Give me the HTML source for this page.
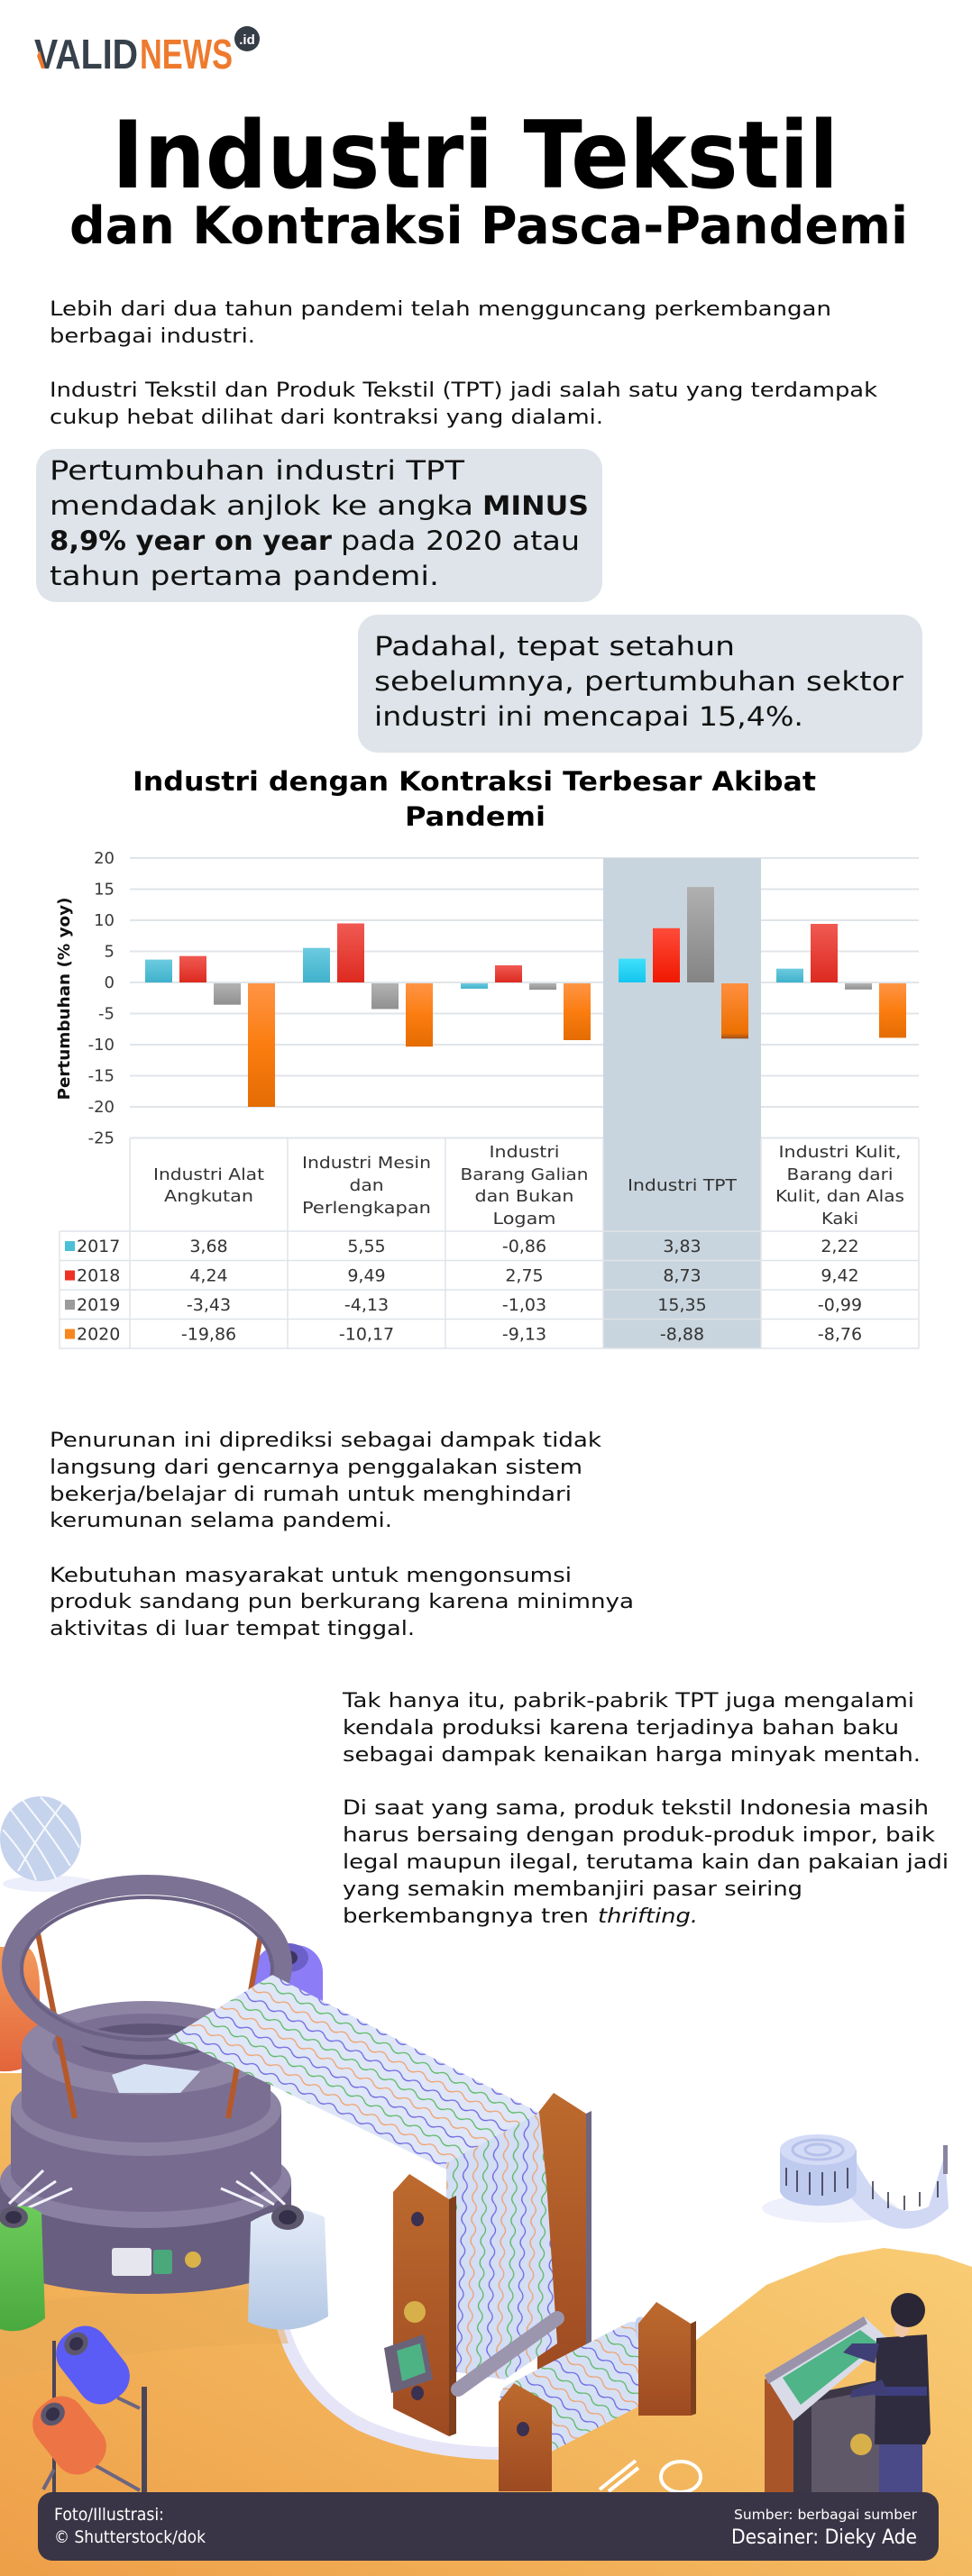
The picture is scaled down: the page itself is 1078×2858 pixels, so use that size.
<!DOCTYPE html>
<html><head><meta charset="utf-8">
<style>
html,body{margin:0;padding:0;background:#fff}
svg{display:block}
.t{font-family:"DejaVu Sans","Liberation Sans",sans-serif}
.bd{font-family:"DejaVu Sans","Liberation Sans",sans-serif;font-weight:bold}
.lg{font-family:"Liberation Sans","DejaVu Sans",sans-serif;font-weight:bold}
</style></head>
<body>
<svg xmlns="http://www.w3.org/2000/svg" width="1078" height="2858" viewBox="0 0 1078 2858">
<defs>
<linearGradient id="gC" x1="0" y1="0" x2="0" y2="1"><stop offset="0" stop-color="#6ccbe0"/><stop offset="1" stop-color="#3fb2cb"/></linearGradient>
<linearGradient id="gR" x1="0" y1="0" x2="0" y2="1"><stop offset="0" stop-color="#f05a52"/><stop offset="1" stop-color="#dd2a20"/></linearGradient>
<linearGradient id="gG" x1="0" y1="0" x2="0" y2="1"><stop offset="0" stop-color="#b3b3b3"/><stop offset="1" stop-color="#909090"/></linearGradient>
<linearGradient id="gO" x1="0" y1="0" x2="0" y2="1"><stop offset="0" stop-color="#ff9445"/><stop offset="0.5" stop-color="#fb7d10"/><stop offset="1" stop-color="#e46c02"/></linearGradient>
<linearGradient id="gC2" x1="0" y1="0" x2="0" y2="1"><stop offset="0" stop-color="#3fe0fa"/><stop offset="1" stop-color="#14c6ee"/></linearGradient>
<linearGradient id="gR2" x1="0" y1="0" x2="0" y2="1"><stop offset="0" stop-color="#ff4b3a"/><stop offset="1" stop-color="#f01800"/></linearGradient>
<linearGradient id="gG2" x1="0" y1="0" x2="0" y2="1"><stop offset="0" stop-color="#b0b0b0"/><stop offset="1" stop-color="#848484"/></linearGradient>
<linearGradient id="gO2" x1="0" y1="0" x2="0" y2="1"><stop offset="0" stop-color="#ff8f3f"/><stop offset="0.9" stop-color="#ec7000"/><stop offset="1" stop-color="#9a5020"/></linearGradient>
<linearGradient id="gGround" x1="0" y1="1" x2="1" y2="0"><stop offset="0" stop-color="#ee9f48"/><stop offset="0.45" stop-color="#f3b75e"/><stop offset="1" stop-color="#fbd780"/></linearGradient>
<linearGradient id="gOrSp" x1="0" y1="0" x2="0" y2="1"><stop offset="0" stop-color="#f39a5c"/><stop offset="1" stop-color="#e3643a"/></linearGradient>
<linearGradient id="gGrSp" x1="0" y1="0" x2="0" y2="1"><stop offset="0" stop-color="#6ccb5a"/><stop offset="1" stop-color="#4aa93e"/></linearGradient>
<linearGradient id="gWhSp" x1="0" y1="0" x2="0" y2="1"><stop offset="0" stop-color="#e4ebf8"/><stop offset="1" stop-color="#b3c8e4"/></linearGradient>
<linearGradient id="gWood" x1="0" y1="0" x2="0" y2="1"><stop offset="0" stop-color="#bd6a2e"/><stop offset="1" stop-color="#9e4a22"/></linearGradient>
<pattern id="wv" width="24" height="33" patternUnits="userSpaceOnUse" patternTransform="rotate(27.3)">
<rect width="24" height="33" fill="#dfe6f7"/>
<path d="M0 5 q6 -5 12 0 t12 0" stroke="#58b860" fill="none" stroke-width="1.3"/>
<path d="M0 16 q6 -5 12 0 t12 0" stroke="#f0a06a" fill="none" stroke-width="1.3"/>
<path d="M0 27 q6 -5 12 0 t12 0" stroke="#6a64e0" fill="none" stroke-width="1.3"/>
</pattern>
<pattern id="wvv" width="24" height="33" patternUnits="userSpaceOnUse" patternTransform="rotate(92)">
<rect width="24" height="33" fill="#d3ddf4"/>
<path d="M0 5 q6 -5 12 0 t12 0" stroke="#58b860" fill="none" stroke-width="1.3"/>
<path d="M0 16 q6 -5 12 0 t12 0" stroke="#f0a06a" fill="none" stroke-width="1.3"/>
<path d="M0 27 q6 -5 12 0 t12 0" stroke="#6a64e0" fill="none" stroke-width="1.3"/>
</pattern>
<pattern id="wvr" width="24" height="33" patternUnits="userSpaceOnUse" patternTransform="rotate(62)">
<rect width="24" height="33" fill="#d6e0f5"/>
<path d="M0 5 q6 -5 12 0 t12 0" stroke="#58b860" fill="none" stroke-width="1.3"/>
<path d="M0 16 q6 -5 12 0 t12 0" stroke="#f0a06a" fill="none" stroke-width="1.3"/>
<path d="M0 27 q6 -5 12 0 t12 0" stroke="#6a64e0" fill="none" stroke-width="1.3"/>
</pattern>
</defs>

<rect width="1078" height="2858" fill="#fff"/>

<!-- LOGO -->
<text class="lg" x="38" y="76" font-size="46" textLength="115" lengthAdjust="spacingAndGlyphs" fill="#37414b">VALID</text>
<polygon points="44,56 50,76 46,76 41,62" fill="#ee7a2e"/>
<text class="lg" x="155" y="76" font-size="46" textLength="103" lengthAdjust="spacingAndGlyphs" fill="#ee7a2e">NEWS</text>
<circle cx="274" cy="43" r="14" fill="#353d47"/>
<text class="lg" x="274" y="49" font-size="15" text-anchor="middle" fill="#fff">.id</text>

<!-- TITLE -->
<text class="bd" x="124" y="208" font-size="103" textLength="806" lengthAdjust="spacingAndGlyphs" fill="#000">Industri Tekstil</text>
<text class="bd" x="77" y="270" font-size="57" textLength="930" lengthAdjust="spacingAndGlyphs" fill="#000">dan Kontraksi Pasca-Pandemi</text>

<!-- INTRO -->
<g class="t" font-size="22" fill="#111">
<text x="55" y="350" textLength="867" lengthAdjust="spacingAndGlyphs">Lebih dari dua tahun pandemi telah mengguncang perkembangan</text>
<text x="55" y="380" textLength="228" lengthAdjust="spacingAndGlyphs">berbagai industri.</text>
<text x="55" y="440" textLength="918" lengthAdjust="spacingAndGlyphs">Industri Tekstil dan Produk Tekstil (TPT) jadi salah satu yang terdampak</text>
<text x="55" y="470" textLength="614" lengthAdjust="spacingAndGlyphs">cukup hebat dilihat dari kontraksi yang dialami.</text>
</g>

<!-- BUBBLES -->
<rect x="40" y="498" width="628" height="170" rx="22" fill="#dee4e9"/>
<g font-size="29" fill="#111">
<text class="t" x="55" y="532" textLength="460" lengthAdjust="spacingAndGlyphs">Pertumbuhan industri TPT</text>
<text class="t" x="55" y="571" textLength="470" lengthAdjust="spacingAndGlyphs">mendadak anjlok ke angka</text>
<text class="bd" x="535" y="571" textLength="118" lengthAdjust="spacingAndGlyphs">MINUS</text>
<text class="bd" x="55" y="610" textLength="313" lengthAdjust="spacingAndGlyphs">8,9% year on year</text>
<text class="t" x="378" y="610" textLength="265" lengthAdjust="spacingAndGlyphs">pada 2020 atau</text>
<text class="t" x="55" y="649" textLength="432" lengthAdjust="spacingAndGlyphs">tahun pertama pandemi.</text>
</g>
<rect x="397" y="682" width="626" height="153" rx="22" fill="#dee4e9"/>
<g class="t" font-size="29" fill="#111">
<text x="415" y="727" textLength="400" lengthAdjust="spacingAndGlyphs">Padahal, tepat setahun</text>
<text x="415" y="766" textLength="587" lengthAdjust="spacingAndGlyphs">sebelumnya, pertumbuhan sektor</text>
<text x="415" y="805" textLength="476" lengthAdjust="spacingAndGlyphs">industri ini mencapai 15,4%.</text>
</g>

<!-- CHART TITLE -->
<text class="bd" x="147" y="877" font-size="29" textLength="758" lengthAdjust="spacingAndGlyphs" fill="#000">Industri dengan Kontraksi Terbesar Akibat</text>
<text class="bd" x="449" y="916" font-size="29" textLength="156" lengthAdjust="spacingAndGlyphs" fill="#000">Pandemi</text>

<!-- GRID -->
<g stroke="#e0e5e9" stroke-width="2">
<line x1="144" y1="952" x2="1019" y2="952"/>
<line x1="144" y1="986.5" x2="1019" y2="986.5"/>
<line x1="144" y1="1021" x2="1019" y2="1021"/>
<line x1="144" y1="1055.5" x2="1019" y2="1055.5"/>
<line x1="144" y1="1090" x2="1019" y2="1090"/>
<line x1="144" y1="1124.5" x2="1019" y2="1124.5"/>
<line x1="144" y1="1159" x2="1019" y2="1159"/>
<line x1="144" y1="1193.5" x2="1019" y2="1193.5"/>
<line x1="144" y1="1228" x2="1019" y2="1228"/>
<line x1="144" y1="1262.5" x2="1019" y2="1262.5"/>
</g>
<g class="t" font-size="18" fill="#3a3a3a" text-anchor="end">
<text x="127" y="958">20</text>
<text x="127" y="992.5">15</text>
<text x="127" y="1027">10</text>
<text x="127" y="1061.5">5</text>
<text x="127" y="1096">0</text>
<text x="127" y="1130.5">-5</text>
<text x="127" y="1165">-10</text>
<text x="127" y="1199.5">-15</text>
<text x="127" y="1234">-20</text>
<text x="127" y="1268.5">-25</text>
</g>
<text class="bd" transform="translate(77,1108) rotate(-90)" font-size="18" text-anchor="middle" textLength="225" lengthAdjust="spacingAndGlyphs" fill="#111">Pertumbuhan (% yoy)</text>

<!-- highlight -->
<rect x="669" y="952" width="175" height="544" fill="#c9d5de"/>

<!-- TABLE LINES -->
<g stroke="#dfe4e8" stroke-width="1.5">
<line x1="66" y1="1366" x2="1019" y2="1366"/>
<line x1="66" y1="1398.5" x2="1019" y2="1398.5"/>
<line x1="66" y1="1431" x2="1019" y2="1431"/>
<line x1="66" y1="1463.5" x2="1019" y2="1463.5"/>
<line x1="66" y1="1496" x2="1019" y2="1496"/>
<line x1="66" y1="1366" x2="66" y2="1496"/>
<line x1="144" y1="1263" x2="144" y2="1496"/>
<line x1="319" y1="1263" x2="319" y2="1496"/>
<line x1="494" y1="1263" x2="494" y2="1496"/>
<line x1="669" y1="1263" x2="669" y2="1496"/>
<line x1="844" y1="1263" x2="844" y2="1496"/>
<line x1="1019" y1="1263" x2="1019" y2="1496"/>
</g>

<!-- BARS -->
<g>
<rect x="161" y="1064.6" width="30" height="25.4" fill="url(#gC)"/>
<rect x="199" y="1060.7" width="30" height="29.3" fill="url(#gR)"/>
<rect x="237" y="1091" width="30" height="23.7" fill="url(#gG)"/>
<rect x="275" y="1091" width="30" height="137" fill="url(#gO)"/>

<rect x="336" y="1051.7" width="30" height="38.3" fill="url(#gC)"/>
<rect x="374" y="1024.5" width="30" height="65.5" fill="url(#gR)"/>
<rect x="412" y="1091" width="30" height="28.5" fill="url(#gG)"/>
<rect x="450" y="1091" width="30" height="70.2" fill="url(#gO)"/>

<rect x="511" y="1091" width="30" height="5.9" fill="url(#gC)"/>
<rect x="549" y="1071" width="30" height="19" fill="url(#gR)"/>
<rect x="587" y="1091" width="30" height="7.1" fill="url(#gG)"/>
<rect x="625" y="1091" width="30" height="63" fill="url(#gO)"/>

<rect x="686" y="1063.6" width="30" height="26.4" fill="url(#gC2)"/>
<rect x="724" y="1029.8" width="30" height="60.2" fill="url(#gR2)"/>
<rect x="762" y="984.1" width="30" height="105.9" fill="url(#gG2)"/>
<rect x="800" y="1091" width="30" height="61.3" fill="url(#gO2)"/>

<rect x="861" y="1074.7" width="30" height="15.3" fill="url(#gC)"/>
<rect x="899" y="1025" width="30" height="65" fill="url(#gR)"/>
<rect x="937" y="1091" width="30" height="6.8" fill="url(#gG)"/>
<rect x="975" y="1091" width="30" height="60.4" fill="url(#gO)"/>
</g>

<!-- TABLE HEADER -->
<g class="t" font-size="18" fill="#333" text-anchor="middle">
<text x="231.5" y="1309" textLength="123" lengthAdjust="spacingAndGlyphs">Industri Alat</text>
<text x="231.5" y="1333" textLength="99" lengthAdjust="spacingAndGlyphs">Angkutan</text>
<text x="406.5" y="1296" textLength="143" lengthAdjust="spacingAndGlyphs">Industri Mesin</text>
<text x="406.5" y="1321" textLength="38" lengthAdjust="spacingAndGlyphs">dan</text>
<text x="406.5" y="1346" textLength="143" lengthAdjust="spacingAndGlyphs">Perlengkapan</text>
<text x="581.5" y="1284" textLength="78" lengthAdjust="spacingAndGlyphs">Industri</text>
<text x="581.5" y="1309" textLength="142" lengthAdjust="spacingAndGlyphs">Barang Galian</text>
<text x="581.5" y="1333" textLength="110" lengthAdjust="spacingAndGlyphs">dan Bukan</text>
<text x="581.5" y="1358" textLength="70" lengthAdjust="spacingAndGlyphs">Logam</text>
<text x="756.5" y="1321" textLength="121" lengthAdjust="spacingAndGlyphs">Industri TPT</text>
<text x="931.5" y="1284" textLength="136" lengthAdjust="spacingAndGlyphs">Industri Kulit,</text>
<text x="931.5" y="1309" textLength="118" lengthAdjust="spacingAndGlyphs">Barang dari</text>
<text x="931.5" y="1333" textLength="143" lengthAdjust="spacingAndGlyphs">Kulit, dan Alas</text>
<text x="931.5" y="1358" textLength="41" lengthAdjust="spacingAndGlyphs">Kaki</text>
</g>

<!-- TABLE DATA -->
<rect x="72" y="1377" width="11" height="11" fill="#4bbfd6"/>
<rect x="72" y="1409.5" width="11" height="11" fill="#ee3124"/>
<rect x="72" y="1442" width="11" height="11" fill="#9b9b9b"/>
<rect x="72" y="1474.5" width="11" height="11" fill="#f7861e"/>
<g class="t" font-size="19" fill="#333">
<text x="85" y="1389">2017</text>
<text x="85" y="1421.5">2018</text>
<text x="85" y="1454">2019</text>
<text x="85" y="1486.5">2020</text>
</g>
<g class="t" font-size="19" fill="#333" text-anchor="middle">
<text x="231.5" y="1389">3,68</text><text x="406.5" y="1389">5,55</text><text x="581.5" y="1389">-0,86</text><text x="756.5" y="1389">3,83</text><text x="931.5" y="1389">2,22</text>
<text x="231.5" y="1421.5">4,24</text><text x="406.5" y="1421.5">9,49</text><text x="581.5" y="1421.5">2,75</text><text x="756.5" y="1421.5">8,73</text><text x="931.5" y="1421.5">9,42</text>
<text x="231.5" y="1454">-3,43</text><text x="406.5" y="1454">-4,13</text><text x="581.5" y="1454">-1,03</text><text x="756.5" y="1454">15,35</text><text x="931.5" y="1454">-0,99</text>
<text x="231.5" y="1486.5">-19,86</text><text x="406.5" y="1486.5">-10,17</text><text x="581.5" y="1486.5">-9,13</text><text x="756.5" y="1486.5">-8,88</text><text x="931.5" y="1486.5">-8,76</text>
</g>

<!-- LOWER TEXT -->
<g class="t" font-size="22" fill="#111">
<text x="55" y="1605" textLength="612" lengthAdjust="spacingAndGlyphs">Penurunan ini diprediksi sebagai dampak tidak</text>
<text x="55" y="1635" textLength="591" lengthAdjust="spacingAndGlyphs">langsung dari gencarnya penggalakan sistem</text>
<text x="55" y="1665" textLength="579" lengthAdjust="spacingAndGlyphs">bekerja/belajar di rumah untuk menghindari</text>
<text x="55" y="1694" textLength="380" lengthAdjust="spacingAndGlyphs">kerumunan selama pandemi.</text>
<text x="55" y="1755" textLength="579" lengthAdjust="spacingAndGlyphs">Kebutuhan masyarakat untuk mengonsumsi</text>
<text x="55" y="1784" textLength="648" lengthAdjust="spacingAndGlyphs">produk sandang pun berkurang karena minimnya</text>
<text x="55" y="1814" textLength="405" lengthAdjust="spacingAndGlyphs">aktivitas di luar tempat tinggal.</text>
<text x="380" y="1894" textLength="634" lengthAdjust="spacingAndGlyphs">Tak hanya itu, pabrik-pabrik TPT juga mengalami</text>
<text x="380" y="1924" textLength="617" lengthAdjust="spacingAndGlyphs">kendala produksi karena terjadinya bahan baku</text>
<text x="380" y="1954" textLength="641" lengthAdjust="spacingAndGlyphs">sebagai dampak kenaikan harga minyak mentah.</text>
<text x="380" y="2013" textLength="650" lengthAdjust="spacingAndGlyphs">Di saat yang sama, produk tekstil Indonesia masih</text>
<text x="380" y="2043" textLength="657" lengthAdjust="spacingAndGlyphs">harus bersaing dengan produk-produk impor, baik</text>
<text x="380" y="2073" textLength="672" lengthAdjust="spacingAndGlyphs">legal maupun ilegal, terutama kain dan pakaian jadi</text>
<text x="380" y="2103" textLength="510" lengthAdjust="spacingAndGlyphs">yang semakin membanjiri pasar seiring</text>
<text x="380" y="2133" textLength="273" lengthAdjust="spacingAndGlyphs">berkembangnya tren</text>
<text x="663" y="2133" font-style="italic" textLength="111" lengthAdjust="spacingAndGlyphs">thrifting.</text>
</g>

<!-- ILLUSTRATION -->
<!-- ground -->
<polygon points="0,2300 230,2300 300,2480 312,2587 357,2660 420,2692 480,2712 536,2722 610,2705 690,2655 770,2598 850,2535 930,2503 980,2494 1040,2502 1078,2515 1078,2858 0,2858" fill="url(#gGround)"/>
<path d="M312,2575 Q330,2650 400,2690 Q470,2722 560,2722" stroke="#e6e5f8" stroke-width="14" fill="none"/>
<path d="M0,2560 Q120,2540 300,2540 L320,2600 Q160,2600 0,2640 Z" fill="#e7a955" opacity="0.5"/>

<!-- yarn ball -->
<ellipse cx="55" cy="2090" rx="52" ry="9" fill="#eceefb"/>
<ellipse cx="45" cy="2040" rx="45" ry="47" fill="#c6d3ed"/>
<g stroke="#ffffff" stroke-width="2" fill="none" opacity="0.85">
<path d="M12,2008 Q45,2050 62,2084"/>
<path d="M25,1997 Q60,2040 78,2070"/>
<path d="M45,1994 Q75,2025 88,2050"/>
<path d="M3,2030 Q30,2060 40,2086"/>
<path d="M70,2000 Q40,2040 20,2076"/>
</g>

<!-- back spools -->
<path d="M0,2160 L30,2160 Q42,2166 44,2200 L44,2280 Q30,2300 0,2298 Z" fill="url(#gOrSp)"/>
<rect x="282" y="2158" width="76" height="94" rx="30" fill="#8c7cf6"/>
<ellipse cx="320" cy="2172" rx="22" ry="16" fill="#6b5fc8"/>
<ellipse cx="320" cy="2172" rx="10" ry="8" fill="#3d3560"/>

<!-- machine -->
<path d="M0,2420 L0,2505 A161.5,40 0 0 0 323,2505 L323,2420 Z" fill="#685e80"/>
<ellipse cx="161.5" cy="2420" rx="161.5" ry="52" fill="#8a80a1"/>
<path d="M12,2340 L12,2410 A150,44 0 0 0 312,2410 L312,2340 Z" fill="#776c90"/>
<ellipse cx="162" cy="2340" rx="150" ry="52" fill="#8d83a3"/>
<path d="M24,2275 L24,2335 A138,42 0 0 0 300,2335 L300,2275 Z" fill="#7a6f92"/>
<ellipse cx="162" cy="2272" rx="138" ry="52" fill="#8e84a4"/>
<ellipse cx="162" cy="2268" rx="104" ry="34" fill="#7b7094"/>
<ellipse cx="162" cy="2265" rx="74" ry="20" fill="#5f5677"/>
<rect x="124" y="2494" width="44" height="31" rx="3" fill="#e6e6ee"/>
<rect x="170" y="2496" width="21" height="27" rx="3" fill="#4aa87a"/>
<circle cx="214" cy="2507" r="9" fill="#d9b24a"/>
<!-- threads -->
<g stroke="#f2f2fa" stroke-width="3">
<line x1="10" y1="2445" x2="48" y2="2408"/><line x1="20" y1="2448" x2="62" y2="2420"/><line x1="30" y1="2450" x2="80" y2="2428"/>
<line x1="316" y1="2446" x2="278" y2="2410"/><line x1="304" y1="2446" x2="262" y2="2420"/><line x1="292" y1="2448" x2="245" y2="2428"/>
</g>

<!-- rods -->
<line x1="41" y1="2140" x2="83" y2="2350" stroke="#b5592a" stroke-width="6"/>
<line x1="289" y1="2147" x2="253" y2="2350" stroke="#b5592a" stroke-width="6"/>

<!-- inner fabric -->
<polygon points="124,2302 160,2290 222,2298 200,2322 132,2322" fill="#d8e2f5"/>

<!-- ring -->
<ellipse cx="163" cy="2180" rx="150" ry="89" fill="none" stroke="#7c7294" stroke-width="22"/>
<ellipse cx="163" cy="2184" rx="139" ry="79" fill="none" stroke="#6a6184" stroke-width="4"/>

<!-- posts back -->
<polygon points="596,2345 614,2322 650,2345 650,2612 596,2640" fill="url(#gWood)"/>
<polygon points="650,2345 656,2342 656,2610 650,2612" fill="#6e6680"/>

<!-- fabric band -->
<polygon points="186,2262 302,2191 598,2344 540,2384 495,2407 215,2272" fill="url(#wv)"/>
<polygon points="495,2400 598,2344 606,2420 618,2600 560,2640 495,2630" fill="url(#wvv)"/>

<!-- post A -->
<polygon points="436,2432 454,2412 498,2440 498,2703 436,2672" fill="url(#gWood)"/>
<polygon points="498,2440 506,2436 506,2700 498,2703" fill="#7e3f1c"/>
<ellipse cx="463" cy="2462" rx="7" ry="8" fill="#3a3050"/>
<ellipse cx="463" cy="2655" rx="7" ry="8" fill="#3a3050"/>
<circle cx="460" cy="2565" r="12" fill="#d8b04a"/>
<polygon points="426,2605 470,2590 480,2640 434,2655" fill="#6a6278"/>
<polygon points="440,2608 466,2600 472,2632 446,2642" fill="#4db385"/>

<!-- rod and roller -->
<line x1="508" y1="2651" x2="618" y2="2572" stroke="#9b95ad" stroke-width="16" stroke-linecap="round"/>
<g transform="translate(649,2651) rotate(-27.4)">
<rect x="-89" y="-44" width="178" height="88" rx="14" fill="url(#wvr)"/>
<ellipse cx="89" cy="0" rx="14" ry="44" fill="#c5d0ec"/>
<rect x="89" y="-8" width="24" height="16" fill="#9b95ad"/>
</g>

<!-- posts front -->
<polygon points="553,2665 570,2644 612,2668 612,2764 553,2764" fill="url(#gWood)"/>
<ellipse cx="580" cy="2695" rx="7" ry="8" fill="#3a3050"/>
<polygon points="708,2578 728,2554 766,2578 766,2680 708,2680" fill="url(#gWood)"/>
<polygon points="766,2578 772,2575 772,2678 766,2680" fill="#7e3f1c"/>

<!-- scissors -->
<g stroke="#fff" stroke-width="4" fill="none">
<line x1="665" y1="2762" x2="705" y2="2730"/>
<line x1="675" y1="2764" x2="708" y2="2738"/>
<ellipse cx="755" cy="2748" rx="22" ry="17"/>
</g>

<!-- front spools -->
<path d="M0,2455 Q24,2440 46,2455 L50,2572 Q25,2592 0,2584 Z" fill="url(#gGrSp)"/>
<ellipse cx="15" cy="2460" rx="16" ry="12" fill="#5d576e"/>
<ellipse cx="15" cy="2460" rx="9" ry="7" fill="#35304a"/>
<path d="M278,2465 Q320,2440 360,2460 L364,2570 Q320,2596 275,2576 Z" fill="url(#gWhSp)"/>
<ellipse cx="319" cy="2460" rx="18" ry="14" fill="#5d576e"/>
<ellipse cx="319" cy="2460" rx="10" ry="8" fill="#35304a"/>

<!-- stand spools -->
<line x1="60" y1="2597" x2="60" y2="2765" stroke="#4b4657" stroke-width="4"/>
<line x1="160" y1="2648" x2="160" y2="2765" stroke="#4b4657" stroke-width="6"/>
<line x1="60" y1="2740" x2="48" y2="2762" stroke="#6e6680" stroke-width="4"/>
<line x1="105" y1="2735" x2="155" y2="2763" stroke="#6e6680" stroke-width="4"/>
<line x1="130" y1="2660" x2="155" y2="2672" stroke="#6e6680" stroke-width="4"/>
<g transform="translate(103,2624) rotate(-38)">
<rect x="-30" y="-45" width="60" height="90" rx="26" fill="#5b5cf6"/>
<ellipse cx="0" cy="-30" rx="14" ry="12" fill="#5d576e"/>
<ellipse cx="0" cy="-30" rx="8" ry="7" fill="#35304a"/>
</g>
<g transform="translate(77,2702) rotate(-38)">
<rect x="-30" y="-45" width="60" height="90" rx="26" fill="#ec7445"/>
<ellipse cx="0" cy="-30" rx="14" ry="12" fill="#5d576e"/>
<ellipse cx="0" cy="-30" rx="8" ry="7" fill="#35304a"/>
</g>

<!-- tape measure -->
<ellipse cx="920" cy="2450" rx="75" ry="16" fill="#eef0fb"/>
<path d="M948,2395 Q985,2470 1030,2448 L1048,2390 L1052,2450 Q1000,2500 945,2440 Z" fill="#d0d8f4"/>
<path d="M865,2385 L865,2430 A42,17 0 0 0 950,2430 L950,2385 Z" fill="#bfcaef"/>
<ellipse cx="907" cy="2385" rx="42" ry="17" fill="#d4dbf6"/>
<ellipse cx="907" cy="2385" rx="28" ry="11" fill="none" stroke="#b6c1ea" stroke-width="3"/>
<ellipse cx="907" cy="2385" rx="14" ry="6" fill="none" stroke="#b6c1ea" stroke-width="3"/>
<g stroke="#2a2a3a" stroke-width="1.5">
<line x1="872" y1="2405" x2="872" y2="2425"/><line x1="884" y1="2408" x2="884" y2="2432"/><line x1="898" y1="2410" x2="898" y2="2435"/><line x1="912" y1="2410" x2="912" y2="2436"/><line x1="926" y1="2409" x2="926" y2="2432"/><line x1="940" y1="2405" x2="940" y2="2428"/>
<line x1="968" y1="2420" x2="968" y2="2440"/><line x1="985" y1="2432" x2="985" y2="2450"/><line x1="1003" y1="2436" x2="1003" y2="2452"/><line x1="1020" y1="2432" x2="1020" y2="2448"/><line x1="1040" y1="2420" x2="1040" y2="2438"/>
</g>
<rect x="1046" y="2380" width="5" height="32" fill="#8a84a2"/>

<!-- console -->
<polygon points="848,2640 880,2625 880,2765 848,2765" fill="#a8552a"/>
<polygon points="880,2660 978,2640 978,2765 880,2765" fill="#3c3747"/>
<polygon points="900,2665 978,2650 978,2765 900,2765" fill="#5e5868"/>
<circle cx="955" cy="2712" r="12" fill="#d8b04a"/>
<polygon points="848,2635 958,2570 986,2596 880,2686" fill="#d9dbe8"/>
<polygon points="848,2635 958,2570 962,2578 852,2645" fill="#9a93aa"/>
<polygon points="868,2638 954,2585 974,2600 888,2668" fill="#4fb487"/>
<!-- person -->
<rect x="975" y="2705" width="48" height="62" fill="#4a4a88"/>
<path d="M972,2594 L1028,2590 L1032,2700 L1026,2712 L970,2712 Z" fill="#2f2c40"/>
<rect x="970" y="2648" width="58" height="10" fill="#3e3e80"/>
<path d="M975,2600 L945,2600 L935,2610 L970,2622 Z" fill="#3f3f75"/>
<path d="M978,2640 L945,2652 L943,2660 L985,2655 Z" fill="#3f3f75"/>
<ellipse cx="1000" cy="2584" rx="8" ry="9" fill="#f1c7a5"/>
<circle cx="1007" cy="2563" r="19" fill="#2a2636"/>

<!-- footer -->
<rect x="42" y="2765" width="999" height="76" rx="16" fill="#3a3546"/>
<g class="t" fill="#fff">
<text x="60" y="2796" font-size="19" textLength="122" lengthAdjust="spacingAndGlyphs">Foto/Illustrasi:</text>
<text x="60" y="2821" font-size="19" textLength="168" lengthAdjust="spacingAndGlyphs">© Shutterstock/dok</text>
<text x="814" y="2795" font-size="15" textLength="203" lengthAdjust="spacingAndGlyphs">Sumber: berbagai sumber</text>
<text x="811" y="2822" font-size="22" textLength="206" lengthAdjust="spacingAndGlyphs">Desainer: Dieky Ade</text>
</g>
</svg>
</body></html>
